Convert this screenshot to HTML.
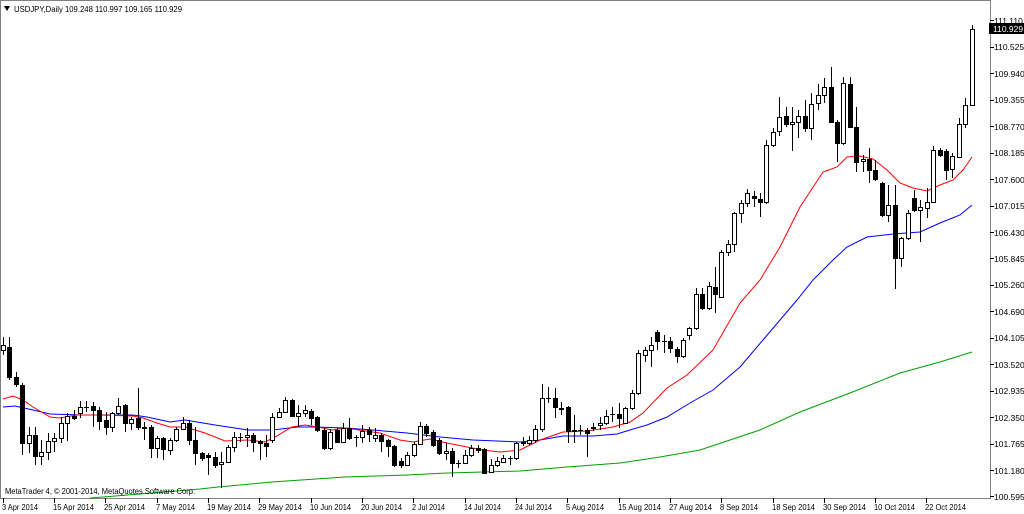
<!DOCTYPE html>
<html><head><meta charset="utf-8">
<style>
html,body{margin:0;padding:0;background:#fff;}
svg{display:block;}
text{font-family:"Liberation Sans",sans-serif;font-size:8px;fill:#000;}
text.ax{font-size:8.5px;}
</style></head>
<body>
<svg id="c" width="1024" height="514" xmlns="http://www.w3.org/2000/svg">
<rect x="0" y="0" width="1024" height="514" fill="#fff"/>
<rect x="0.5" y="0.5" width="990" height="498" fill="none" stroke="#808080" stroke-width="1"/>
<polygon points="4,6 10,6 7,11" fill="#000"/>
<text x="14" y="12" textLength="168" lengthAdjust="spacingAndGlyphs">USDJPY,Daily  109.248 110.997 109.165 110.929</text>
<g id="ma">
<polyline fill="none" stroke="#00a000" stroke-width="1" points="90,498 140,494 200,489 218,487 272,482 345,477 407,475 447,473 520,471 567,467 620,463 660,457 700,450 760,430 800,412 850,393 900,373 940,362 972,352"/>
<polyline fill="none" stroke="#0000ff" stroke-width="1" points="3,407 15,406 33,410 50,414 83,415 133,415 147,417 170,422 185,420 215,425 248,430 272,430 298,427 315,427 345,428 373,430 407,433 440,437 473,440 520,442 540,440 563,436 593,436 617,434 630,430 647,425 667,417 690,403 713,390 740,367 763,340 780,320 797,300 813,280 833,260 847,247 867,237 893,234 920,232 940,223 960,215 972,205"/>
<polyline fill="none" stroke="#ff0000" stroke-width="1" points="3,399 13,396 23,400 33,407 50,417 60,418 77,415 100,415 133,416 143,418 157,423 170,427 185,427 205,433 225,441 248,440 265,442 275,437 292,427 305,425 318,427 332,430 345,428 380,433 400,440 413,442 430,439 447,443 467,447 483,450 500,452 520,450 540,440 563,432 587,431 613,427 630,422 643,413 667,388 687,375 713,350 740,303 760,280 780,247 800,207 823,172 837,167 847,157 860,156 873,159 887,170 900,183 913,188 927,191 940,185 953,180 963,170 972,157"/>
</g>
<g id="candles"></g>
<g stroke="#000" stroke-width="1">
<line x1="990" y1="20.5" x2="994" y2="20.5"/><line x1="990" y1="47.5" x2="994" y2="47.5"/><line x1="990" y1="73.5" x2="994" y2="73.5"/><line x1="990" y1="100.5" x2="994" y2="100.5"/><line x1="990" y1="126.5" x2="994" y2="126.5"/><line x1="990" y1="153.5" x2="994" y2="153.5"/><line x1="990" y1="179.5" x2="994" y2="179.5"/><line x1="990" y1="206.5" x2="994" y2="206.5"/><line x1="990" y1="232.5" x2="994" y2="232.5"/><line x1="990" y1="258.5" x2="994" y2="258.5"/><line x1="990" y1="285.5" x2="994" y2="285.5"/><line x1="990" y1="311.5" x2="994" y2="311.5"/><line x1="990" y1="338.5" x2="994" y2="338.5"/><line x1="990" y1="364.5" x2="994" y2="364.5"/><line x1="990" y1="391.5" x2="994" y2="391.5"/><line x1="990" y1="417.5" x2="994" y2="417.5"/><line x1="990" y1="444.5" x2="994" y2="444.5"/><line x1="990" y1="470.5" x2="994" y2="470.5"/><line x1="990" y1="496.5" x2="994" y2="496.5"/>
</g>
<text class="ax" x="994" y="24">111.110</text>
<rect x="989" y="23" width="35" height="11" fill="#000"/>
<text class="ax" x="993" y="32" style="fill:#fff">110.929</text>
<text class="ax" x="994" y="50">110.525</text>
<text class="ax" x="994" y="77">109.940</text>
<text class="ax" x="994" y="103">109.355</text>
<text class="ax" x="994" y="130">108.770</text>
<text class="ax" x="994" y="156">108.185</text>
<text class="ax" x="994" y="183">107.600</text>
<text class="ax" x="994" y="209">107.015</text>
<text class="ax" x="994" y="236">106.430</text>
<text class="ax" x="994" y="262">105.845</text>
<text class="ax" x="994" y="288">105.260</text>
<text class="ax" x="994" y="315">104.690</text>
<text class="ax" x="994" y="341">104.105</text>
<text class="ax" x="994" y="368">103.520</text>
<text class="ax" x="994" y="394">102.935</text>
<text class="ax" x="994" y="421">102.350</text>
<text class="ax" x="994" y="447">101.765</text>
<text class="ax" x="994" y="474">101.180</text>
<text class="ax" x="994" y="500">100.595</text>
<text x="5" y="494" textLength="190" lengthAdjust="spacingAndGlyphs">MetaTrader 4, © 2001-2014, MetaQuotes Software Corp.</text>
<g stroke="#000" stroke-width="1">
<line x1="3.5" y1="498" x2="3.5" y2="503"/><line x1="54.5" y1="498" x2="54.5" y2="503"/><line x1="105.5" y1="498" x2="105.5" y2="503"/><line x1="157.5" y1="498" x2="157.5" y2="503"/><line x1="208.5" y1="498" x2="208.5" y2="503"/><line x1="259.5" y1="498" x2="259.5" y2="503"/><line x1="311.5" y1="498" x2="311.5" y2="503"/><line x1="362.5" y1="498" x2="362.5" y2="503"/><line x1="413.5" y1="498" x2="413.5" y2="503"/><line x1="465.5" y1="498" x2="465.5" y2="503"/><line x1="516.5" y1="498" x2="516.5" y2="503"/><line x1="567.5" y1="498" x2="567.5" y2="503"/><line x1="619.5" y1="498" x2="619.5" y2="503"/><line x1="670.5" y1="498" x2="670.5" y2="503"/><line x1="721.5" y1="498" x2="721.5" y2="503"/><line x1="773.5" y1="498" x2="773.5" y2="503"/><line x1="824.5" y1="498" x2="824.5" y2="503"/><line x1="875.5" y1="498" x2="875.5" y2="503"/><line x1="926.5" y1="498" x2="926.5" y2="503"/>
</g>
<g>
<text x="2" y="510" textLength="36" lengthAdjust="spacingAndGlyphs">3 Apr 2014</text>
<text x="53" y="510" textLength="41" lengthAdjust="spacingAndGlyphs">15 Apr 2014</text>
<text x="104" y="510" textLength="41" lengthAdjust="spacingAndGlyphs">25 Apr 2014</text>
<text x="156" y="510" textLength="39" lengthAdjust="spacingAndGlyphs">7 May 2014</text>
<text x="207" y="510" textLength="44" lengthAdjust="spacingAndGlyphs">19 May 2014</text>
<text x="258" y="510" textLength="44" lengthAdjust="spacingAndGlyphs">29 May 2014</text>
<text x="310" y="510" textLength="41" lengthAdjust="spacingAndGlyphs">10 Jun 2014</text>
<text x="361" y="510" textLength="41" lengthAdjust="spacingAndGlyphs">20 Jun 2014</text>
<text x="412" y="510" textLength="33" lengthAdjust="spacingAndGlyphs">2 Jul 2014</text>
<text x="464" y="510" textLength="37" lengthAdjust="spacingAndGlyphs">14 Jul 2014</text>
<text x="515" y="510" textLength="37" lengthAdjust="spacingAndGlyphs">24 Jul 2014</text>
<text x="566" y="510" textLength="38" lengthAdjust="spacingAndGlyphs">5 Aug 2014</text>
<text x="618" y="510" textLength="43" lengthAdjust="spacingAndGlyphs">15 Aug 2014</text>
<text x="669" y="510" textLength="43" lengthAdjust="spacingAndGlyphs">27 Aug 2014</text>
<text x="720" y="510" textLength="38" lengthAdjust="spacingAndGlyphs">8 Sep 2014</text>
<text x="772" y="510" textLength="43" lengthAdjust="spacingAndGlyphs">18 Sep 2014</text>
<text x="823" y="510" textLength="43" lengthAdjust="spacingAndGlyphs">30 Sep 2014</text>
<text x="874" y="510" textLength="41" lengthAdjust="spacingAndGlyphs">10 Oct 2014</text>
<text x="925" y="510" textLength="41" lengthAdjust="spacingAndGlyphs">22 Oct 2014</text>
</g>
</svg>
<script>
var d=[[350,345,337,355],[347,377,337,380],[377,384,372,387],[385,443,383,455],[443,435,427,453],[435,456,427,465],[456,452,440,465],[452,441,433,460],[441,438,433,452],[438,423,417,443],[423,416,413,441],[416,418,410,420],[413,407,401,418],[407,407,401,412],[406,410,402,427],[410,421,407,430],[420,427,412,435],[427,413,412,432],[413,406,398,415],[405,423,404,432],[423,419,417,430],[418,427,388,430],[427,428,422,440],[427,448,425,458],[448,438,436,458],[438,449,437,460],[450,440,438,455],[440,429,427,442],[429,423,417,430],[423,440,420,445],[440,453,427,465],[453,458,452,461],[455,457,453,475],[457,465,452,468],[464,462,452,488],[462,447,445,463],[447,437,432,452],[437,437,433,442],[437,435,428,447],[435,442,433,452],[441,443,440,460],[443,446,435,457],[440,417,413,443],[417,412,408,418],[412,400,397,413],[400,416,399,417],[416,413,405,427],[413,410,405,417],[411,418,409,425],[417,430,416,432],[430,448,428,450],[448,432,429,450],[430,442,428,443],[442,428,423,443],[428,438,418,440],[437,437,435,447],[437,431,425,443],[430,434,427,442],[438,435,428,442],[435,441,433,452],[440,446,439,457],[446,465,445,467],[461,465,458,468],[465,455,452,466],[455,444,442,457],[444,426,422,445],[426,433,424,437],[432,445,430,447],[440,453,438,455],[453,451,443,460],[451,463,448,477],[463,463,460,468],[463,455,450,464],[455,448,445,457],[448,450,445,453],[449,473,448,474],[472,465,459,473],[465,461,457,467],[462,458,455,463],[458,458,456,465],[458,443,442,460],[443,442,437,446],[443,440,436,445],[440,429,425,443],[429,398,384,432],[398,398,387,403],[398,407,388,418],[408,409,402,415],[407,431,406,443],[430,431,415,443],[430,430,425,435],[430,433,428,457],[428,427,423,431],[425,423,417,430],[423,416,410,425],[414,414,407,422],[414,418,403,428],[423,408,407,424],[408,393,390,410],[393,353,350,395],[355,350,347,362],[350,345,337,367],[332,341,330,350],[341,341,335,353],[341,348,337,353],[349,356,347,363],[356,340,338,358],[335,328,327,340],[328,294,288,330],[294,308,288,310],[308,286,282,310],[287,294,267,313],[297,252,250,298],[252,244,240,256],[244,213,212,252],[213,203,200,223],[203,193,189,207],[196,198,191,207],[199,202,193,217],[202,145,140,204],[145,132,128,147],[131,117,97,136],[116,124,107,127],[124,122,107,151],[122,116,110,138],[116,128,100,132],[128,104,93,140],[103,95,84,110],[95,87,78,103],[87,122,67,123],[122,143,120,162],[143,83,77,145],[84,127,77,128],[127,162,107,172],[161,159,155,172],[159,170,148,183],[170,179,160,181],[183,215,182,217],[215,205,185,222],[205,258,185,289],[258,238,237,267],[238,213,210,240],[198,210,190,212],[210,207,200,242],[208,202,188,218],[202,150,146,203],[150,155,148,157],[151,170,149,180],[169,156,153,178],[157,124,118,158],[124,105,98,128],[105,29,25,105]];
var s='';
for(var i=0;i<d.length;i++){var o=d[i][0],c=d[i][1],h=d[i][2],l=d[i][3];var cx=Math.round(3+6.415*i);
var t=Math.min(o,c),b=Math.max(o,c);
s+='<line x1="'+(cx+0.5)+'" y1="'+h+'" x2="'+(cx+0.5)+'" y2="'+l+'" stroke="#000"/>';
if(b-t<1){s+='<line x1="'+(cx-2)+'" y1="'+(t+0.5)+'" x2="'+(cx+3)+'" y2="'+(t+0.5)+'" stroke="#000"/>';}
else s+='<rect x="'+(cx-1.5)+'" y="'+(t+0.5)+'" width="4" height="'+(b-t)+'" fill="'+(c>o?'#000':'#fff')+'" stroke="#000"/>';}
document.getElementById('candles').innerHTML=s;
</script>
</body></html>
